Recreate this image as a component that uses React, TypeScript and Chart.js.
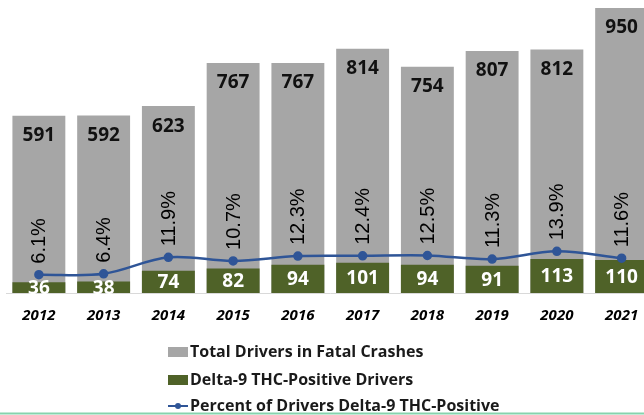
import React, { useEffect, useRef } from "react";
import { Chart, registerables } from "chart.js";

Chart.register(...registerables);

const years = ["2012", "2013", "2014", "2015", "2016", "2017", "2018", "2019", "2020", "2021"];
const totalDrivers = [591, 592, 623, 767, 767, 814, 754, 807, 812, 950];
const thcDrivers = [36, 38, 74, 82, 94, 101, 94, 91, 113, 110];
const thcPercent = [6.1, 6.4, 11.9, 10.7, 12.3, 12.4, 12.5, 11.3, 13.9, 11.6];
const seriesNames = [
  "Total Drivers in Fatal Crashes",
  "Delta-9 THC-Positive Drivers",
  "Percent of Drivers Delta-9 THC-Positive",
];

const GRAY = "#a6a6a6";
const GREEN = "#4f6228";
const BLUE = "#2f5597";
const FONT = "'Open Sans', 'Liberation Sans', sans-serif";
const PCT_FONT = "'Liberation Sans', 'Open Sans', sans-serif";

const labelPlugin = {
  id: "valueLabels",
  afterDatasetsDraw(chart: any) {
    const ctx = chart.ctx;
    chart.data.datasets.forEach((ds: any, i: number) => {
      const meta = chart.getDatasetMeta(i);
      meta.data.forEach((el: any, j: number) => {
        const v = ds.data[j];
        ctx.save();
        if (ds.kind === "total") {
          ctx.font = `bold 19px ${FONT}`;
          ctx.fillStyle = "#111";
          ctx.textAlign = "center";
          ctx.textBaseline = "middle";
          ctx.fillText(String(v), el.x, el.y + 20);
        } else if (ds.kind === "thc") {
          ctx.font = `bold 19px ${FONT}`;
          ctx.fillStyle = "#ffffff";
          ctx.textAlign = "center";
          ctx.textBaseline = "middle";
          ctx.fillText(String(v), el.x, (el.y + el.base) / 2 + 1);
        } else if (ds.kind === "pct") {
          ctx.font = `20px ${PCT_FONT}`;
          ctx.fillStyle = "#000";
          ctx.translate(el.x + 1, el.y - 11);
          ctx.rotate(-Math.PI / 2);
          ctx.textAlign = "left";
          ctx.textBaseline = "middle";
          ctx.fillText(v.toFixed(1) + "%", 0, 0);
        }
        ctx.restore();
      });
    });
  },
};

const legendPlugin = {
  id: "customLegend",
  afterDraw(chart: any) {
    const ctx = chart.ctx;
    const base = chart.chartArea.bottom;
    const x0 = 168;
    const rows = [59, 87, 113];
    chart.data.datasets.forEach((ds: any, i: number) => {
      const y = base + rows[i];
      ctx.save();
      if (ds.type === "line") {
        ctx.strokeStyle = ds.borderColor;
        ctx.lineWidth = 2;
        ctx.beginPath();
        ctx.moveTo(x0, y);
        ctx.lineTo(x0 + 20, y);
        ctx.stroke();
        ctx.fillStyle = ds.borderColor;
        ctx.beginPath();
        ctx.arc(x0 + 10, y, 3, 0, Math.PI * 2);
        ctx.fill();
      } else {
        ctx.fillStyle = ds.backgroundColor;
        ctx.fillRect(x0, y - 5, 20, 10);
      }
      ctx.font = `bold 16px ${FONT}`;
      ctx.fillStyle = "#1a1a1a";
      ctx.textAlign = "left";
      ctx.textBaseline = "middle";
      ctx.fillText(ds.label, x0 + 22, y);
      ctx.restore();
    });
    ctx.save();
    ctx.strokeStyle = "#86d3ad";
    ctx.lineWidth = 2;
    ctx.beginPath();
    ctx.moveTo(0, 413.5);
    ctx.lineTo(chart.width, 413.5);
    ctx.stroke();
    ctx.restore();
  },
};

export default function App() {
  const ref = useRef<HTMLCanvasElement | null>(null);

  useEffect(() => {
    if (!ref.current) return;
    const chart = new Chart(ref.current, {
      type: "bar",
      data: {
        labels: years,
        datasets: [
          {
            kind: "total",
            label: seriesNames[0],
            data: totalDrivers,
            backgroundColor: GRAY,
            grouped: false,
            order: 2,
            yAxisID: "y",
          } as any,
          {
            kind: "thc",
            label: seriesNames[1],
            data: thcDrivers,
            backgroundColor: GREEN,
            grouped: false,
            order: 1,
            yAxisID: "y",
          } as any,
          {
            kind: "pct",
            type: "line",
            label: seriesNames[2],
            data: thcPercent,
            borderColor: BLUE,
            backgroundColor: BLUE,
            borderWidth: 2.5,
            pointRadius: 3.5,
            pointBackgroundColor: BLUE,
            pointBorderColor: BLUE,
            tension: 0.35,
            order: 0,
            yAxisID: "y2",
          } as any,
        ],
      },
      options: {
        animation: false,
        responsive: false,
        layout: { padding: { left: 5, top: 8, right: 16, bottom: 0 } },
        datasets: {
          bar: { categoryPercentage: 1, barPercentage: 0.817 },
        } as any,
        plugins: {
          legend: { display: false },
          tooltip: { enabled: false },
        },
        scales: {
          x: {
            type: "category",
            offset: true,
            grid: { display: false, drawTicks: false },
            border: { display: true, color: "#d9d9d9", width: 1 },
            ticks: {
              color: "#000",
              padding: 14,
              font: { family: FONT, size: 15, weight: "bold", style: "italic" },
            },
            afterFit: (s: any) => {
              s.height = 122;
            },
          },
          y: { display: false, min: 0, max: 950 },
          y2: { display: false, min: 0, max: 95, position: "right" },
        },
      } as any,
      plugins: [labelPlugin, legendPlugin],
    });
    return () => chart.destroy();
  }, []);

  return (
    <div
      style={{
        position: "fixed",
        left: 0,
        top: 0,
        width: 644,
        height: 415,
        overflow: "hidden",
        background: "#fff",
      }}
    >
      <canvas ref={ref} width={670} height={415} style={{ display: "block" }} />
    </div>
  );
}
